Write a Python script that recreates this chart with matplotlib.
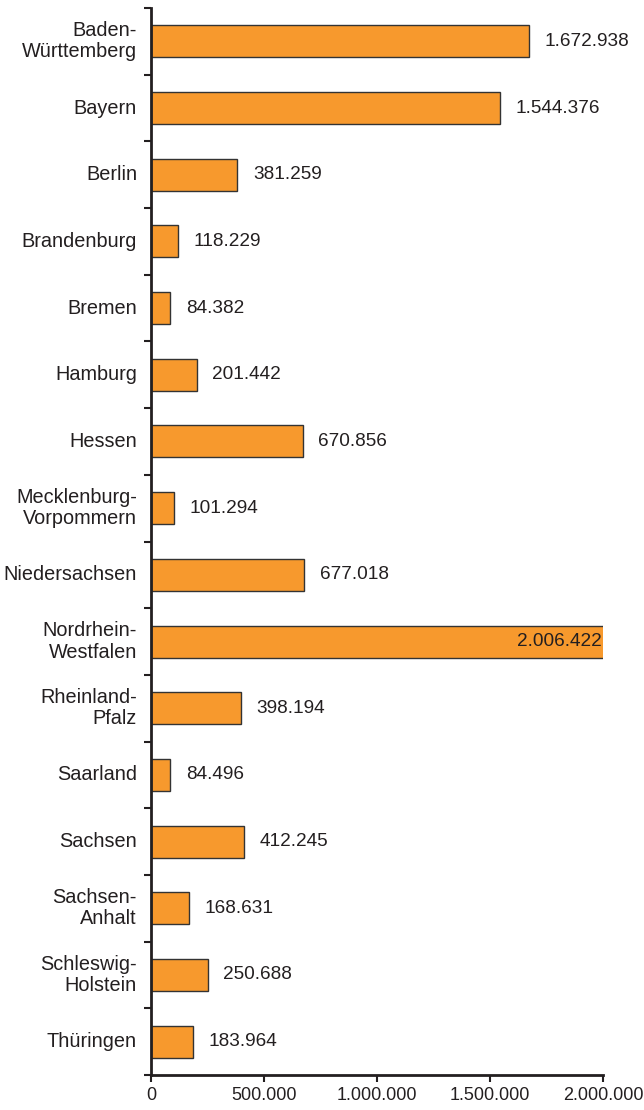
import matplotlib.pyplot as plt
from matplotlib.ticker import FixedLocator, FuncFormatter
import numpy as np

plt.rcParams['font.family'] = ['Liberation Sans', 'DejaVu Sans']

laender = ["Baden-\nWürttemberg", "Bayern", "Berlin", "Brandenburg", "Bremen",
           "Hamburg", "Hessen", "Mecklenburg-\nVorpommern", "Niedersachsen",
           "Nordrhein-\nWestfalen", "Rheinland-\nPfalz", "Saarland", "Sachsen",
           "Sachsen-\nAnhalt", "Schleswig-\nHolstein", "Thüringen"]
werte = [1672938, 1544376, 381259, 118229, 84382, 201442, 670856, 101294,
         677018, 2006422, 398194, 84496, 412245, 168631, 250688, 183964]
x_ticks = [0, 500000, 1000000, 1500000, 2000000]


def de_fmt(v):
    return f"{int(v):,}".replace(",", ".")


W, H = 644, 1110
fig = plt.figure(figsize=(W / 100, H / 100), dpi=100)
ax = fig.add_axes([151 / W, 1 - 1075 / H, (603 - 151) / W, (1075 - 8) / H])

n = len(laender)
y = np.arange(n)
ax.barh(y, werte, height=0.48, color="#F7992D", edgecolor="#333333", linewidth=1.0)

ax.set_xlim(0, 2000000)
ax.set_ylim(n - 0.5, -0.5)

txt = "#231F20"
for yi, v in zip(y, werte):
    if v > 1900000:
        ax.text(v - 14000, yi, de_fmt(v), ha="right", va="center",
                fontsize=13.7, color=txt)
    else:
        ax.text(v + 70000, yi, de_fmt(v), ha="left", va="center",
                fontsize=13.7, color=txt)

# category names next to the axis, ticks sit between the categories
for yi, name in zip(y, laender):
    ax.text(-14 / 452 * 2000000, yi, name, ha="right", va="center",
            fontsize=14.3, color=txt, linespacing=1.15, clip_on=False)
ax.yaxis.set_major_locator(FixedLocator(np.arange(-0.5, n, 1.0)))
ax.yaxis.set_major_formatter(FuncFormatter(lambda v, p: ""))
ax.tick_params(axis="y", length=5, width=1.5, color=txt)

ax.xaxis.set_major_locator(FixedLocator(x_ticks))
ax.xaxis.set_major_formatter(FuncFormatter(lambda v, p: de_fmt(v)))
ax.tick_params(axis="x", length=5, width=1.5, color=txt,
               labelsize=13, labelcolor=txt, pad=4)

for s in ["top", "right"]:
    ax.spines[s].set_visible(False)
for s in ["left", "bottom"]:
    ax.spines[s].set_linewidth(2)
    ax.spines[s].set_color(txt)

fig.savefig("out.png", dpi=100)
